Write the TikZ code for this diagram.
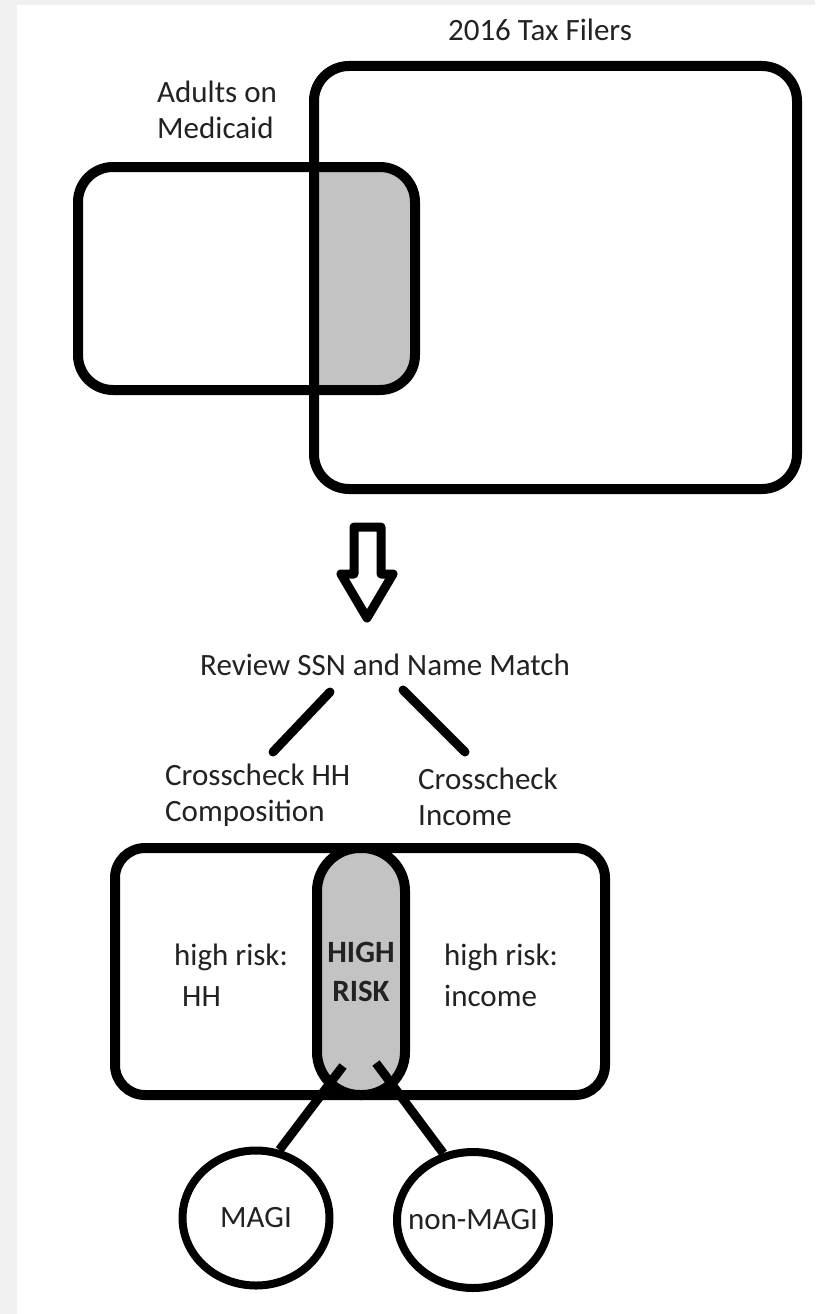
\documentclass[tikz,border=0pt]{standalone}
\usepackage{fontspec}
\setmainfont{Carlito}
\usetikzlibrary{shapes.geometric}
\definecolor{bggray}{HTML}{F0F0F0}
\definecolor{fillgray}{HTML}{C3C3C3}
\definecolor{txt}{HTML}{222222}
\begin{document}
\begin{tikzpicture}[x=1pt,y=-1pt,
  box/.style={draw=black, line width=10pt, rounded corners=35pt},
  lbl/.style={text=txt, font=\fontsize{31}{36}\selectfont, inner sep=0pt},
  conn/.style={draw=black, line width=9pt, line cap=round},
  oval/.style={ellipse, draw=black, line width=8pt, text=txt, font=\fontsize{31}{36}\selectfont, inner xsep=-20pt, inner ysep=0pt}]
\useasboundingbox (0,0) rectangle (815,1314);
\fill[bggray] (0,0) rectangle (815,1314);
\fill[white] (17,5) rectangle (815,1314);

% Venn diagram
\begin{scope}
  \clip (314,0) rectangle (815,1314);
  \fill[fillgray, rounded corners=35pt] (78,167) rectangle (415,390);
\end{scope}
\draw[box] (78,167) rectangle (415,390);
\draw[box] (314,66) rectangle (797,489);

\node[lbl] (taxlbl) at (540,30) {2016 Tax Filers};
\node[lbl, anchor=west, align=left] (medlbl) at (157,110) {Adults on\\Medicaid};

% block arrow
\draw[black, line width=9pt, line join=round]
  (354,527) -- (381,527) -- (381,574) -- (393,574) -- (367,618) -- (341,574) -- (354,574) -- cycle;

\node[lbl] (review) at (385,665) {Review SSN and Name Match};
\node[lbl, anchor=west, align=left] (hhchk) at (165,795) {Crosscheck HH\\Composition};
\node[lbl, anchor=west, align=left] (incchk) at (418,797) {Crosscheck\\Income};

\coordinate (r1) at (330,692);
\coordinate (h1) at (273,752);
\coordinate (r2) at (403,690);
\coordinate (i1) at (465,752);
\draw[conn] (r1) -- (h1);
\draw[conn] (r2) -- (i1);

% bottom box
\draw[box, rounded corners=30pt] (115,848) rectangle (605,1095);
\node[draw=black, fill=fillgray, line width=10pt, rounded corners=43pt,
      minimum width=88pt, minimum height=247pt, inner sep=0pt,
      text=txt, align=center, font=\fontsize{31}{39}\selectfont\bfseries] (hr) at (361,971.5) {HIGH\\RISK};

\node[lbl, anchor=west, align=left, font=\fontsize{31}{41}\selectfont] (hrhh) at (174,975) {high risk:\\\hspace*{8pt}HH};
\node[lbl, anchor=west, align=left, font=\fontsize{31}{41}\selectfont] (hrinc) at (444,975) {high risk:\\income};

% outcome circles
\node[oval, minimum width=147pt, minimum height=135pt] (magi) at (256,1218) {MAGI};
\node[oval, minimum width=152pt, minimum height=136pt] (nonmagi) at (473,1220) {non-MAGI};

\coordinate (hrL) at (343,1066);
\coordinate (hrR) at (376,1063);
\draw[conn, line cap=butt] (hrL) -- (magi.71);
\draw[conn, line cap=butt] (hrR) -- (nonmagi.114);
\end{tikzpicture}
\end{document}
